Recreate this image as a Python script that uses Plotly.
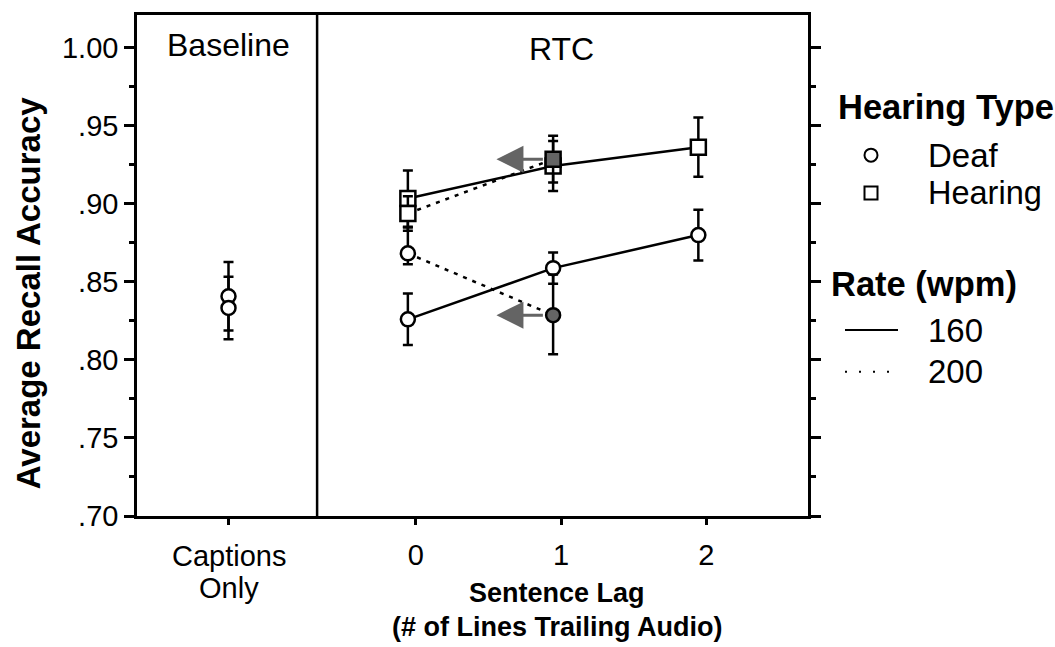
import plotly.graph_objects as go

# ---- data -------------------------------------------------------------
lag = [0, 1, 2]
lag_labels = ["0", "1", "2"]
baseline_label = ["Captions", "Only"]

deaf_160 = [0.826, 0.8588, 0.880]
deaf_160_err = [0.0165, 0.010, 0.0163]

hear_160 = [0.9034, 0.9242, 0.9363]
hear_160_err = [0.018, 0.016, 0.019]

deaf_200 = [0.8683, 0.8287]
deaf_200_up = [0.0165, 0.026]
deaf_200_dn = [0.007, 0.025]

hear_200 = [0.8938, 0.9286]
hear_200_err = [0.011, 0.015]

baseline = [0.8408, 0.8333]
baseline_err = [0.022, 0.020]

# ---- layout constants ---------------------------------------------------
W, H = 1055, 647
ML, MR, MT, MB = 137, 247, 12, 131
PW, PH = W - ML - MR, H - MT - MB
X_BASE = -1.29        # x position of the "Captions Only" column
X_DIV = -0.68         # divider between Baseline and RTC panels
X_SHIFT = -0.055      # points sit slightly left of the tick marks
FONT = "Liberation Sans, Arial, sans-serif"
TICK_FS = 29
GRAY = "#646464"


def px(p):
    return (p - ML) / PW


def py(p):
    return (H - MB - p) / PH


def txt(x, y, text, size, xref="paper", xanchor="center", angle=0):
    return dict(x=x, y=y, xref=xref, yref="paper", text=text, showarrow=False,
                xanchor=xanchor, yanchor="middle", textangle=angle,
                font=dict(size=size, family=FONT, color="black"))


xs = [v + X_SHIFT for v in lag]
circle = dict(symbol="circle", size=14, color="white", line=dict(color="black", width=2.5))
square = dict(symbol="square", size=15, color="white", line=dict(color="black", width=2.5))
err_style = dict(type="data", color="black", thickness=2.5, width=5)

fig = go.Figure()

# baseline (captions only)
fig.add_trace(go.Scatter(
    x=[X_BASE] * len(baseline), y=baseline, mode="markers", marker=circle,
    error_y=dict(array=baseline_err, **err_style), showlegend=False))

# 160 wpm, solid lines
fig.add_trace(go.Scatter(
    x=xs, y=deaf_160, mode="lines+markers", marker=circle,
    line=dict(color="black", width=2.5),
    error_y=dict(array=deaf_160_err, **err_style), showlegend=False))
fig.add_trace(go.Scatter(
    x=xs, y=hear_160, mode="lines+markers", marker=square,
    line=dict(color="black", width=2.5),
    error_y=dict(array=hear_160_err, **err_style), showlegend=False))

# 200 wpm, dotted lines, lag-1 point filled
fill_circle = dict(circle, color=["white", GRAY])
fill_square = dict(square, color=["white", GRAY])
fig.add_trace(go.Scatter(
    x=xs[:2], y=deaf_200, mode="lines+markers", marker=fill_circle,
    line=dict(color="black", width=2.5, dash="4px,6px"),
    error_y=dict(array=deaf_200_up, arrayminus=deaf_200_dn, **err_style),
    showlegend=False))
fig.add_trace(go.Scatter(
    x=xs[:2], y=hear_200, mode="lines+markers", marker=fill_square,
    line=dict(color="black", width=2.5, dash="4px,6px"),
    error_y=dict(array=hear_200_err, **err_style), showlegend=False))

annotations = []

# arrows pointing left from the filled points
for yv in (hear_200[1], deaf_200[1]):
    annotations.append(dict(
        x=xs[1] - 0.39, y=yv, ax=xs[1] - 0.06, ay=yv,
        xref="x", yref="y", axref="x", ayref="y",
        showarrow=True, arrowhead=2, arrowsize=1.8, arrowwidth=3,
        arrowcolor=GRAY, text=""))

# panel labels
annotations.append(txt(X_BASE, py(42), "Baseline", 32, xref="x"))
annotations.append(txt(1, py(46), "RTC", 32, xref="x"))

# two-line label under the baseline tick
annotations.append(txt(X_BASE, py(556), baseline_label[0], TICK_FS, xref="x"))
annotations.append(txt(X_BASE, py(588), baseline_label[1], TICK_FS, xref="x"))

# axis titles
annotations.append(txt(px(28), py(292), "<b>Average Recall Accuracy</b>", 33, angle=-90))
annotations.append(txt(px(557), py(593), "<b>Sentence Lag</b>", 27))
annotations.append(txt(px(557), py(628), "<b>(# of Lines Trailing Audio)</b>", 27))

# legend
leg = [
    (836, 105, "<b>Hearing Type</b>", 34.5),
    (926, 153, "Deaf", 33),
    (926, 191, "Hearing", 32.5),
    (829, 283, "<b>Rate (wpm)</b>", 34.5),
    (926, 329, "160", 33),
    (926, 371, "200", 33),
]
for lx, ly, t, s in leg:
    annotations.append(txt(px(lx), py(ly), t, s, xanchor="left"))

shapes = [
    # divider between panels
    dict(type="line", x0=X_DIV, x1=X_DIV, y0=0, y1=1, xref="x", yref="paper",
         line=dict(color="black", width=2.5)),
    # legend symbols
    dict(type="circle", xref="paper", yref="paper", xsizemode="pixel", ysizemode="pixel",
         xanchor=px(871), yanchor=py(153), x0=-6.5, x1=6.5, y0=-6.5, y1=6.5,
         line=dict(color="black", width=2), fillcolor="white"),
    dict(type="rect", xref="paper", yref="paper", xsizemode="pixel", ysizemode="pixel",
         xanchor=px(871), yanchor=py(191), x0=-6.5, x1=6.5, y0=-6.5, y1=6.5,
         line=dict(color="black", width=2), fillcolor="white"),
    dict(type="line", xref="paper", yref="paper", x0=px(845), x1=px(898),
         y0=py(329), y1=py(329), line=dict(color="black", width=2)),
    dict(type="line", xref="paper", yref="paper", x0=px(845), x1=px(898),
         y0=py(371), y1=py(371), line=dict(color="black", width=2, dash="2px,12px")),
]

fig.update_layout(
    width=W, height=H,
    margin=dict(l=ML, r=MR, t=MT, b=MB, pad=0),
    paper_bgcolor="white", plot_bgcolor="white",
    font=dict(family=FONT, size=TICK_FS, color="black"),
    annotations=annotations, shapes=shapes, showlegend=False,
)
fig.update_xaxes(
    range=[-1.92, 2.70], tickmode="array",
    tickvals=[X_BASE] + lag, ticktext=[""] + lag_labels,
    showline=True, linecolor="black", linewidth=2.5, mirror=True,
    ticks="outside", ticklen=6, tickwidth=2.5, tickcolor="black",
    ticklabelstandoff=5,
    showgrid=False, zeroline=False, tickfont=dict(size=TICK_FS, family=FONT),
)
fig.update_yaxes(
    range=[0.70, 1.021], tickmode="array",
    tickvals=[0.70, 0.75, 0.80, 0.85, 0.90, 0.95, 1.00],
    ticktext=[".70", ".75", ".80", ".85", ".90", ".95", "1.00"],
    showline=True, linecolor="black", linewidth=2.5, mirror="ticks",
    ticks="outside", ticklen=10, tickwidth=2.5, tickcolor="black",
    minor=dict(tickvals=[0.725, 0.775, 0.825, 0.875, 0.925, 0.975],
               ticks="outside", ticklen=5, tickwidth=2.5, tickcolor="black"),
    showgrid=False, zeroline=False, tickfont=dict(size=TICK_FS, family=FONT),
)

fig.write_html("out.html")
